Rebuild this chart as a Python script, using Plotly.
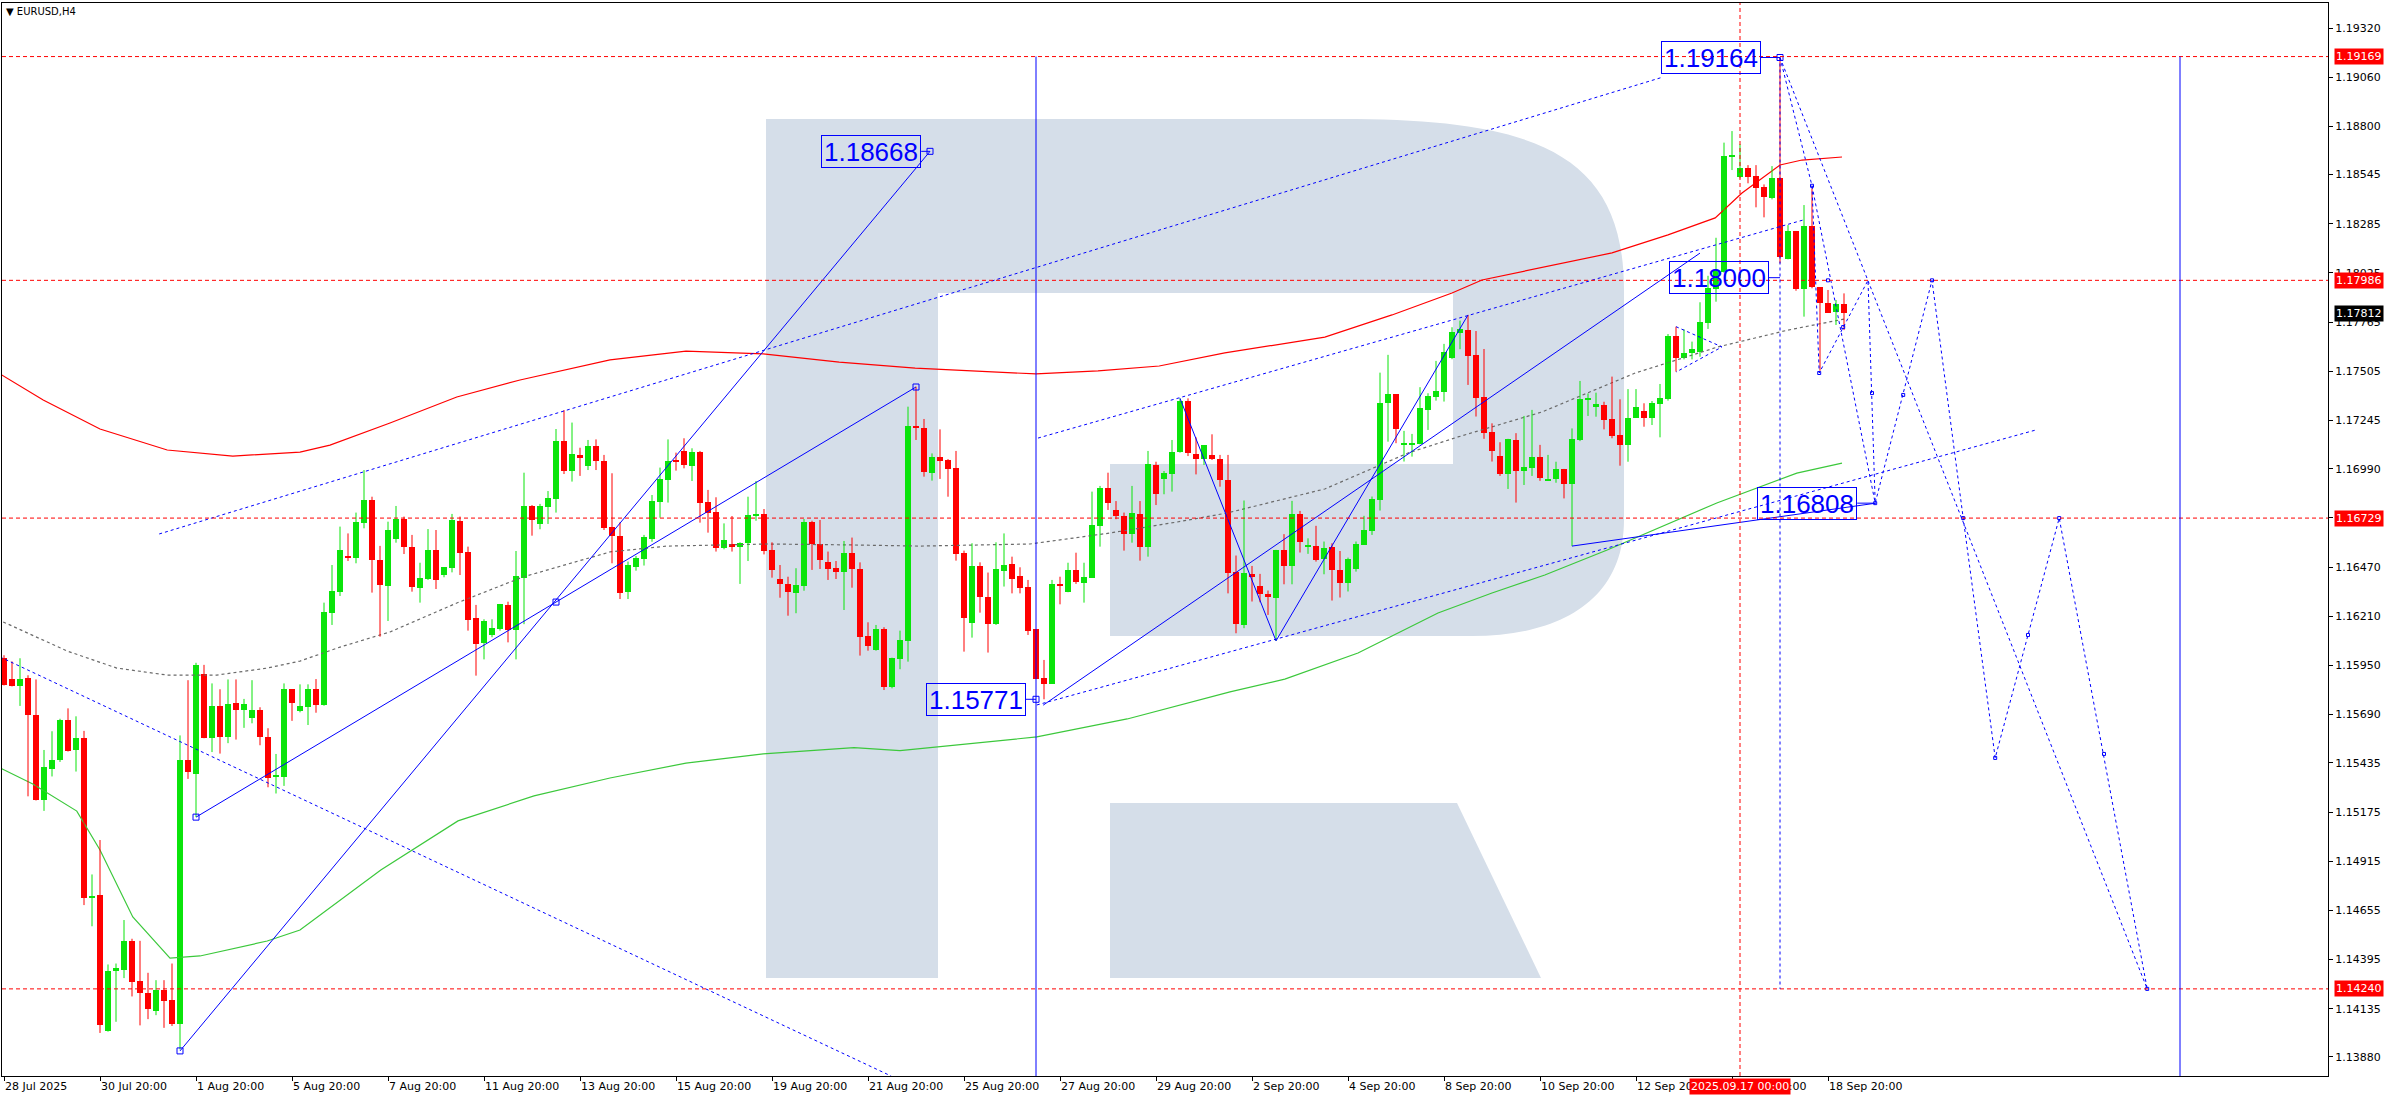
import plotly.graph_objects as go

# ---------------- data ----------------
bar_open = [
1.15988,1.15876,1.15839,1.15881,1.15686,1.15236,1.15400,1.15449,1.15664,1.15503,
1.15565,1.14720,1.14736,1.14018,1.14332,1.14341,1.14494,1.14281,1.14220,1.14123,
1.14233,1.14183,1.14055,1.15449,1.15378,1.15905,1.15565,1.15736,1.15572,1.15749,
1.15712,1.15670,1.15712,1.15574,1.15361,1.15361,1.15824,1.15709,1.15732,1.15826,
1.15741,1.16226,1.16340,1.16529,1.16520,1.16705,1.16825,1.16508,1.16372,1.16619,
1.16724,1.16578,1.16361,1.16405,1.16560,1.16428,1.16467,1.16714,1.16548,1.16199,
1.16067,1.16111,1.16141,1.16268,1.16138,1.16414,1.16793,1.16698,1.16789,1.16830,
1.17137,1.16980,1.17063,1.17004,1.17110,1.17031,1.16684,1.16634,1.16340,1.16472,
1.16513,1.16619,1.16816,1.16930,1.17036,1.17084,1.17004,1.17078,1.16814,1.16761,
1.16573,1.16592,1.16578,1.16599,1.16745,1.16749,1.16560,1.16407,1.16381,1.16335,
1.16372,1.16707,1.16592,1.16497,1.16467,1.16446,1.16543,1.16460,1.16106,1.16032,
1.16143,1.15838,1.15984,1.16081,1.17216,1.17207,1.16969,1.17050,1.17036,1.16992,
1.16546,1.16176,1.16478,1.16314,1.16169,1.16449,1.16486,1.16423,1.16365,1.16141,
1.15886,1.15852,1.16381,1.16340,1.16455,1.16388,1.16414,1.16689,1.16890,1.16772,
1.16742,1.16643,1.16751,1.16578,1.17010,1.16937,1.16964,1.17077,1.17350,1.17068,
1.17040,1.17063,1.17041,1.16930,1.16443,1.16164,1.16434,1.16371,1.16328,1.16309,
1.16561,1.16478,1.16751,1.16577,1.16582,1.16511,1.16578,1.16455,1.16388,1.16460,
1.16587,1.16663,1.16825,1.17340,1.17385,1.17119,1.17119,1.17119,1.17301,1.17368,
1.17396,1.17574,1.17706,1.17724,1.17592,1.17370,1.17183,1.17058,1.16963,1.17142,
1.16978,1.16996,1.17051,1.16930,1.16934,1.16989,1.16909,1.17142,1.17353,1.17318,
1.17327,1.17253,1.17168,1.17115,1.17260,1.17295,1.17260,1.17332,1.17359,1.17692,
1.17577,1.17600,1.17609,1.17762,1.17940,1.18032,1.18636,1.18530,1.18578,1.18537,
1.18477,1.18419,1.18525,1.18099,1.18247,1.17940,1.18273,1.17949,1.17864,1.17820,1.17859]

bar_high = [
1.16004,1.15971,1.15988,1.15898,1.15876,1.15503,1.15602,1.15668,1.15723,1.15681,
1.15604,1.14845,1.15027,1.14369,1.14374,1.14604,1.14505,1.14494,1.14325,1.14286,
1.14286,1.14374,1.15580,1.15872,1.15964,1.15953,1.15855,1.15824,1.15876,1.15876,
1.15773,1.15872,1.15729,1.15618,1.15482,1.15855,1.15824,1.15850,1.15850,1.15878,
1.16282,1.16481,1.16684,1.16648,1.16758,1.16983,1.16842,1.16582,1.16710,1.16793,
1.16737,1.16640,1.16493,1.16671,1.16666,1.16469,1.16751,1.16737,1.16578,1.16270,
1.16194,1.16194,1.16275,1.16287,1.16555,1.16969,1.16798,1.16804,1.16872,1.17200,
1.17300,1.17234,1.17101,1.17142,1.17145,1.17063,1.16966,1.16707,1.16499,1.16529,
1.16640,1.16851,1.16996,1.17145,1.17075,1.17151,1.17098,1.17084,1.16878,1.16839,
1.16701,1.16740,1.16601,1.16842,1.16925,1.16777,1.16601,1.16481,1.16419,1.16464,
1.16724,1.16715,1.16719,1.16552,1.16502,1.16608,1.16626,1.16495,1.16178,1.16164,
1.16152,1.15991,1.16134,1.17318,1.17424,1.17253,1.17071,1.17198,1.17041,1.17084,
1.16557,1.16596,1.16495,1.16441,1.16601,1.16648,1.16525,1.16469,1.16402,1.16141,
1.15979,1.16402,1.16419,1.16493,1.16546,1.16493,1.16869,1.16899,1.16969,1.16819,
1.16758,1.16899,1.16819,1.17084,1.17027,1.16978,1.17142,1.17362,1.17362,1.17156,
1.17115,1.17172,1.17063,1.17063,1.16531,1.16822,1.16476,1.16434,1.16346,1.16561,
1.16644,1.16820,1.16767,1.16622,1.16688,1.16605,1.16596,1.16555,1.16520,1.16605,
1.16741,1.16843,1.17498,1.17592,1.17385,1.17190,1.17174,1.17421,1.17389,1.17560,
1.17650,1.17738,1.17773,1.17803,1.17718,1.17623,1.17230,1.17130,1.17148,1.17178,
1.17269,1.17301,1.17116,1.17063,1.17027,1.16989,1.17203,1.17454,1.17388,1.17392,
1.17344,1.17477,1.17357,1.17411,1.17411,1.17336,1.17348,1.17438,1.17702,1.17741,
1.17727,1.17662,1.17870,1.18010,1.18211,1.18714,1.18775,1.18706,1.18595,1.18595,
1.18493,1.18590,1.19164,1.18278,1.18247,1.18384,1.18472,1.17949,1.17935,1.17882,1.17917]

bar_low = [
1.15844,1.15839,1.15736,1.15258,1.15236,1.15181,1.15363,1.15440,1.15495,1.15389,
1.14683,1.14571,1.14007,1.14014,1.14066,1.14297,1.14200,1.14047,1.14080,1.14101,
1.14034,1.14044,1.13920,1.15350,1.15148,1.15565,1.15492,1.15484,1.15539,1.15558,
1.15620,1.15644,1.15528,1.15306,1.15273,1.15313,1.15657,1.15702,1.15635,1.15700,
1.15737,1.16164,1.16317,1.16502,1.16490,1.16675,1.16335,1.16102,1.16185,1.16599,
1.16539,1.16340,1.16282,1.16402,1.16354,1.16416,1.16442,1.16428,1.16134,1.15896,
1.15982,1.16099,1.16134,1.16072,1.15982,1.16168,1.16636,1.16670,1.16698,1.16758,
1.16962,1.16922,1.16952,1.16983,1.16983,1.16666,1.16490,1.16301,1.16301,1.16451,
1.16478,1.16604,1.16731,1.16811,1.16980,1.16992,1.16925,1.16705,1.16652,1.16552,
1.16564,1.16552,1.16381,1.16502,1.16715,1.16537,1.16414,1.16308,1.16213,1.16226,
1.16345,1.16455,1.16460,1.16402,1.16407,1.16243,1.16361,1.16002,1.16028,1.16028,
1.15820,1.15829,1.15930,1.15970,1.17142,1.16948,1.16927,1.16936,1.16842,1.16504,
1.16023,1.16097,1.16229,1.16018,1.16164,1.16367,1.16331,1.16331,1.16111,1.15878,
1.15771,1.15852,1.16273,1.16337,1.16381,1.16282,1.16414,1.16578,1.16772,1.16723,
1.16557,1.16599,1.16504,1.16525,1.16798,1.16855,1.16869,1.17075,1.17057,1.16960,
1.17010,1.17036,1.16895,1.16331,1.16120,1.16147,1.16288,1.16284,1.16217,1.16080,
1.16379,1.16379,1.16547,1.16540,1.16499,1.16432,1.16293,1.16309,1.16341,1.16446,
1.16587,1.16640,1.16769,1.17133,1.17125,1.17028,1.17054,1.17119,1.17195,1.17350,
1.17345,1.17569,1.17622,1.17433,1.17266,1.17148,1.17028,1.16952,1.16883,1.16811,
1.16904,1.16952,1.16926,1.16927,1.16916,1.16833,1.16581,1.17136,1.17269,1.17265,
1.17198,1.17151,1.17006,1.17027,1.17260,1.17212,1.17221,1.17156,1.17350,1.17503,
1.17568,1.17568,1.17582,1.17729,1.17873,1.18026,1.18569,1.18525,1.18499,1.18372,
1.18319,1.18414,1.18076,1.18097,1.17931,1.17794,1.17944,1.17508,1.17815,1.17750,1.17723]

bar_close = [
1.15844,1.15839,1.15879,1.15686,1.15236,1.15411,1.15449,1.15664,1.15499,1.15565,
1.14720,1.14731,1.14051,1.14336,1.14352,1.14494,1.14275,1.14216,1.14134,1.14233,
1.14178,1.14055,1.15449,1.15385,1.15953,1.15569,1.15736,1.15572,1.15745,1.15712,
1.15745,1.15712,1.15572,1.15357,1.15367,1.15824,1.15749,1.15736,1.15826,1.15741,
1.16231,1.16344,1.16560,1.16520,1.16708,1.16825,1.16508,1.16375,1.16666,1.16724,
1.16578,1.16367,1.16411,1.16560,1.16402,1.16469,1.16719,1.16546,1.16190,1.16064,
1.16185,1.16146,1.16275,1.16138,1.16423,1.16793,1.16719,1.16793,1.16837,1.17137,
1.16980,1.17068,1.17049,1.17110,1.17031,1.16678,1.16634,1.16335,1.16481,1.16516,
1.16627,1.16819,1.16936,1.17031,1.17027,1.17010,1.17080,1.16811,1.16758,1.16573,
1.16613,1.16578,1.16599,1.16745,1.16751,1.16557,1.16455,1.16381,1.16340,1.16375,
1.16707,1.16592,1.16508,1.16460,1.16446,1.16543,1.16460,1.16102,1.16055,1.16143,
1.15838,1.15991,1.16085,1.17216,1.17207,1.16974,1.17050,1.17033,1.16989,1.16539,
1.16203,1.16478,1.16314,1.16169,1.16460,1.16481,1.16407,1.16361,1.16134,1.15878,
1.15852,1.16381,1.16372,1.16455,1.16393,1.16416,1.16693,1.16890,1.16811,1.16742,
1.16643,1.16758,1.16578,1.17015,1.16858,1.16969,1.17080,1.17350,1.17071,1.17040,
1.17115,1.17040,1.16930,1.16441,1.16168,1.16437,1.16415,1.16328,1.16311,1.16561,
1.16478,1.16751,1.16605,1.16582,1.16508,1.16570,1.16452,1.16388,1.16513,1.16593,
1.16667,1.16830,1.17336,1.17385,1.17200,1.17125,1.17125,1.17313,1.17375,1.17401,
1.17609,1.17715,1.17727,1.17586,1.17366,1.17181,1.17086,1.16963,1.17148,1.16978,
1.16998,1.17051,1.16943,1.16936,1.16989,1.16909,1.17145,1.17357,1.17366,1.17330,
1.17247,1.17163,1.17115,1.17260,1.17318,1.17260,1.17339,1.17366,1.17693,1.17577,
1.17603,1.17621,1.17764,1.17947,1.18035,1.18643,1.18648,1.18581,1.18534,1.18476,
1.18428,1.18525,1.18111,1.18247,1.17938,1.18273,1.17949,1.17864,1.17815,1.17859,1.17812]

# moving averages (bar index, price)
ma_red_x = [-0.5,4.9,12,20.4,28.6,37,40.75,48.25,56.6,64.5,75.75,85.25,94.9,104.4,113.9,123.5,129,
            136.75,144.4,152.6,165.1,173.5,181,184.75,191.4,201,208,213.9,217.25,222,224.75,229.75]
ma_red_y = [1.17491,1.17353,1.17200,1.17089,1.17057,1.17078,1.17115,1.17232,1.17369,1.17459,1.17565,
            1.17612,1.17597,1.17554,1.17522,1.17501,1.17491,1.17507,1.17533,1.17602,1.17686,1.17803,
            1.17919,1.17988,1.18046,1.18131,1.18226,1.18316,1.18448,1.18596,1.18622,1.18638]
ma_green_x = [-0.5,3.6,9.1,12,16.1,20.75,24.5,32.9,37,47.1,56.75,66.25,75.75,85.25,94.9,106.25,112,
              121.5,129.1,140.4,153.25,160.1,169.25,179.25,186,192.6,200.4,214.1,224.1,229.75]
ma_green_y = [1.15408,1.15323,1.15180,1.14974,1.14620,1.14403,1.14414,1.14493,1.14551,1.14869,1.15128,
              1.15260,1.15355,1.15434,1.15482,1.15516,1.15500,1.15540,1.15572,1.15667,1.15810,1.15878,
              1.16016,1.16227,1.16333,1.16428,1.16560,1.16809,1.16967,1.17020]
ma_gray_x = [-0.1,7.9,14.1,20.4,26.6,32.9,37,42,48.25,56.6,64.9,75.75,82.9,95.4,106.1,114.5,128.25,
             138.25,146.6,152.9,165.1,175.5,181.75,192.25,203.9,214.25,223,230.1]
ma_gray_y = [1.16180,1.16026,1.15936,1.15899,1.15899,1.15936,1.15973,1.16047,1.16127,1.16280,1.16418,
             1.16550,1.16581,1.16592,1.16587,1.16581,1.16592,1.16650,1.16708,1.16756,1.16883,1.17073,
             1.17158,1.17290,1.17496,1.17634,1.17723,1.17782]

# drawn objects: solid trend/zigzag lines (bar index, price)
solid_lines = [
    ([24, 114], [1.15148, 1.17422]),
    ([22, 115.75], [1.13912, 1.18668]),
    ([129.9, 212], [1.15740, 1.18130]),
    ([147, 159, 183], [1.17362, 1.16080, 1.17803]),
    ([196, 234], [1.16581, 1.16808]),
]
# dotted channel lines
dotted_lines = [
    ([19.4, 207.4], [1.16645, 1.19061]),
    ([-0.5, 110.9], [1.15995, 1.13779]),
    ([129.1, 254], [1.15741, 1.17195]),
    ([129.25, 224.9], [1.17152, 1.18305]),
    ([209, 214.75, 209], [1.17741, 1.17634, 1.17501]),
]
# forecast paths
fc1_x = [222, 226, 226.9, 233, 233.9, 241, 244.9, 248.9, 256.9, 267.9]
fc1_y = [1.19164, 1.18486, 1.17496, 1.17986, 1.16808, 1.17986, 1.16729, 1.15461, 1.16729, 1.14240]
fc2_x = [222, 267.9]
fc2_y = [1.19164, 1.14240]
fc3_x = [226, 233.9]
fc3_y = [1.18486, 1.16808]
node_x = [24, 22, 69, 114, 115.75, 129, 222]
node_y = [1.15148, 1.13912, 1.16285, 1.17422, 1.18668, 1.15771, 1.19164]
small_node_x = [229.9, 228, 233.5, 237.4, 253, 262.5, 226, 226.9, 233.9, 241, 244.9, 248.9, 256.9, 267.9]
small_node_y = [1.17739, 1.17986, 1.17390, 1.17380, 1.16111, 1.15482, 1.18486, 1.17496, 1.16808,
                1.17986, 1.16729, 1.15461, 1.16729, 1.14240]

# price labels drawn on chart
label_text = ["1.18668", "1.15771", "1.19164", "1.18000", "1.16808"]
label_x = [115.75, 129, 222, 222, 233.9]
label_y = [1.18668, 1.15771, 1.19164, 1.18000, 1.16808]
label_gap = [1.1, 1.3, 2.4, 1.4, 2.25]

# horizontal levels and vertical markers
levels = [1.19169, 1.17986, 1.16729, 1.14240]
current_price = 1.17812
vline_red_x = 217
vline_red_text = "2025.09.17 00:00"
vline_blue_x = [129, 272]
vline_blue_top = 1.19169
vline_dash_x = 222
vline_dash_y = [1.19164, 1.14240]

# axes
date_ticks = list(range(0, 229, 12))
date_labels = ["28 Jul 2025", "30 Jul 20:00", "1 Aug 20:00", "5 Aug 20:00", "7 Aug 20:00",
               "11 Aug 20:00", "13 Aug 20:00", "15 Aug 20:00", "19 Aug 20:00", "21 Aug 20:00",
               "25 Aug 20:00", "27 Aug 20:00", "29 Aug 20:00", "2 Sep 20:00", "4 Sep 20:00",
               "8 Sep 20:00", "10 Sep 20:00", "12 Sep 20:00", "16 Sep 20:00", "18 Sep 20:00"]
price_ticks = ["1.19320", "1.19060", "1.18800", "1.18545", "1.18285", "1.18025", "1.17765", "1.17505",
               "1.17245", "1.16990", "1.16730", "1.16470", "1.16210", "1.15950", "1.15690", "1.15435",
               "1.15175", "1.14915", "1.14655", "1.14395", "1.14135", "1.13880"]

# ---------------- figure ----------------
W, H = 2392, 1100
ML, MR, MT, MB = 2, 64, 3, 24
PW, PH = W - ML - MR, H - MT - MB

GREEN = "#0be40b"
RED = "#ff0000"
BLUE = "#0000ff"

fig = go.Figure()

# watermark (decoration, pixel-based)
def pp(x, y):
    return f"{(x - ML) / PW:.5f},{1 - (y - MT) / PH:.5f}"

wm = "#d5dee9"
bowl = ("M " + pp(938, 119) + " L " + pp(1342, 119) + " C " + pp(1530, 119) + " " + pp(1624, 150) + " "
        + pp(1624, 290) + " L " + pp(1624, 520) + " C " + pp(1624, 600) + " " + pp(1560, 636) + " "
        + pp(1472, 636) + " L " + pp(1110, 636) + " L " + pp(1110, 464) + " L " + pp(1453, 464)
        + " L " + pp(1453, 293) + " L " + pp(938, 293) + " Z")
stem = "M " + pp(766, 119) + " L " + pp(938, 119) + " L " + pp(938, 978) + " L " + pp(766, 978) + " Z"
leg = "M " + pp(1110, 803) + " L " + pp(1457, 803) + " L " + pp(1541, 978) + " L " + pp(1110, 978) + " Z"
shapes = []
for p in (stem, bowl, leg):
    shapes.append(dict(type="path", xref="paper", yref="paper", path=p, fillcolor=wm,
                       line=dict(width=0), layer="below"))

# horizontal red levels
for lv in levels:
    shapes.append(dict(type="line", xref="paper", yref="y", x0=0, x1=1, y0=lv, y1=lv,
                       line=dict(color=RED, width=1, dash="4px,3px")))
# vertical red dashed line
shapes.append(dict(type="line", xref="x", yref="paper", x0=vline_red_x, x1=vline_red_x, y0=0, y1=1,
                   line=dict(color=RED, width=1, dash="4px,3px")))
# vertical blue lines
for vx in vline_blue_x:
    shapes.append(dict(type="line", xref="x", yref="y", x0=vx, x1=vx, y0=1.13779, y1=vline_blue_top,
                       line=dict(color=BLUE, width=1)))
shapes.append(dict(type="line", xref="x", yref="y", x0=vline_dash_x, x1=vline_dash_x,
                   y0=vline_dash_y[0], y1=vline_dash_y[1], line=dict(color=BLUE, width=1, dash="3px,3px")))

# moving averages
fig.add_trace(go.Scatter(x=ma_red_x, y=ma_red_y, mode="lines", line=dict(color=RED, width=1.2),
                         hoverinfo="skip"))
fig.add_trace(go.Scatter(x=ma_green_x, y=ma_green_y, mode="lines", line=dict(color="#3cc83c", width=1.2),
                         hoverinfo="skip"))
fig.add_trace(go.Scatter(x=ma_gray_x, y=ma_gray_y, mode="lines",
                         line=dict(color="#6a6a6a", width=1.2, dash="3px,3px"), hoverinfo="skip"))

# candles: wicks
n = len(bar_open)
wx_g, wy_g, wx_r, wy_r = [], [], [], []
colors, bases, heights = [], [], []
for i in range(n):
    up = bar_close[i] >= bar_open[i]
    if up:
        wx_g += [i, i, None]; wy_g += [bar_low[i], bar_high[i], None]
    else:
        wx_r += [i, i, None]; wy_r += [bar_low[i], bar_high[i], None]
    colors.append(GREEN if up else RED)
    lo = min(bar_open[i], bar_close[i])
    hi = max(bar_open[i], bar_close[i])
    bases.append(lo)
    heights.append(max(hi - lo, 0.00006))
fig.add_trace(go.Scatter(x=wx_g, y=wy_g, mode="lines", line=dict(color=GREEN, width=1), hoverinfo="skip"))
fig.add_trace(go.Scatter(x=wx_r, y=wy_r, mode="lines", line=dict(color=RED, width=1), hoverinfo="skip"))
fig.add_trace(go.Bar(x=list(range(n)), y=heights, base=bases, width=0.64,
                     marker=dict(color=colors, line=dict(width=0)), hoverinfo="skip"))

# drawn lines
for xs, ys in solid_lines:
    fig.add_trace(go.Scatter(x=xs, y=ys, mode="lines", line=dict(color=BLUE, width=1), hoverinfo="skip"))
for xs, ys in dotted_lines:
    fig.add_trace(go.Scatter(x=xs, y=ys, mode="lines", line=dict(color=BLUE, width=1, dash="3px,3px"),
                             hoverinfo="skip"))
for xs, ys in ((fc1_x, fc1_y), (fc2_x, fc2_y), (fc3_x, fc3_y)):
    fig.add_trace(go.Scatter(x=xs, y=ys, mode="lines", line=dict(color=BLUE, width=1, dash="3px,3px"),
                             hoverinfo="skip"))
fig.add_trace(go.Scatter(x=node_x, y=node_y, mode="markers",
                         marker=dict(symbol="square-open", size=6, color=BLUE, line=dict(width=1)),
                         hoverinfo="skip"))
fig.add_trace(go.Scatter(x=small_node_x, y=small_node_y, mode="markers",
                         marker=dict(symbol="square-open", size=3, color=BLUE, line=dict(width=1)),
                         hoverinfo="skip"))

annotations = []
# on-chart price labels with connectors
for t, lx, ly, g in zip(label_text, label_x, label_y, label_gap):
    annotations.append(dict(x=lx - g, y=ly, xref="x", yref="y", xanchor="right", yanchor="middle",
                            text=t, showarrow=False, width=96, height=29, align="center",
                            font=dict(family="Liberation Sans", size=26, color=BLUE),
                            bordercolor=BLUE, borderwidth=1, borderpad=1))
    shapes.append(dict(type="line", xref="x", yref="y", x0=lx - g, x1=lx, y0=ly, y1=ly,
                       line=dict(color=BLUE, width=1)))

# right-axis level labels
ax_x = (2334 - ML) / PW
for lv in levels:
    annotations.append(dict(x=ax_x, y=lv, xref="paper", yref="y", xanchor="left", yanchor="middle",
                            text=f"{lv:.5f}", showarrow=False, bgcolor=RED, borderpad=1,
                            font=dict(family="DejaVu Sans", size=11, color="white")))
annotations.append(dict(x=ax_x, y=current_price, xref="paper", yref="y", xanchor="left", yanchor="middle",
                        text=f"{current_price:.5f}", showarrow=False, bgcolor="black", borderpad=1,
                        font=dict(family="DejaVu Sans", size=11, color="white")))
# bottom time label
annotations.append(dict(x=vline_red_x, y=0, xref="x", yref="paper", xanchor="center", yanchor="top",
                        yshift=-2, text=vline_red_text, showarrow=False, bgcolor=RED, borderpad=1,
                        font=dict(family="DejaVu Sans", size=11, color="white")))
# symbol caption
annotations.append(dict(x=2 / PW, y=1, xref="paper", yref="paper", xanchor="left", yanchor="top",
                        yshift=-1, text="▼ EURUSD,H4", showarrow=False,
                        font=dict(family="DejaVu Sans", size=10, color="black")))

fig.update_layout(
    width=W, height=H, margin=dict(l=ML, r=MR, t=MT, b=MB),
    paper_bgcolor="white", plot_bgcolor="white", showlegend=False, bargap=0,
    shapes=shapes, annotations=annotations,
    xaxis=dict(range=[(ML - 4) / 8, (W - MR - 4) / 8], showgrid=False, zeroline=False,
               showline=True, linecolor="black", linewidth=1, mirror=True,
               ticks="outside", ticklen=4, tickcolor="black",
               tickvals=date_ticks, ticktext=date_labels, ticklabelposition="outside right",
               tickfont=dict(family="DejaVu Sans", size=11, color="black")),
    yaxis=dict(side="right", range=[1.137794, 1.194522], showgrid=False, zeroline=False,
               showline=True, linecolor="black", linewidth=1, mirror=True,
               ticks="outside", ticklen=4, tickcolor="black",
               tickvals=[float(v) for v in price_ticks], ticktext=price_ticks,
               tickfont=dict(family="DejaVu Sans", size=11, color="black")),
)

fig.write_html("out.html", config={"displayModeBar": False},
               post_script="document.body.style.margin='0';document.body.style.padding='0';"
                           "document.body.style.overflow='hidden';")
